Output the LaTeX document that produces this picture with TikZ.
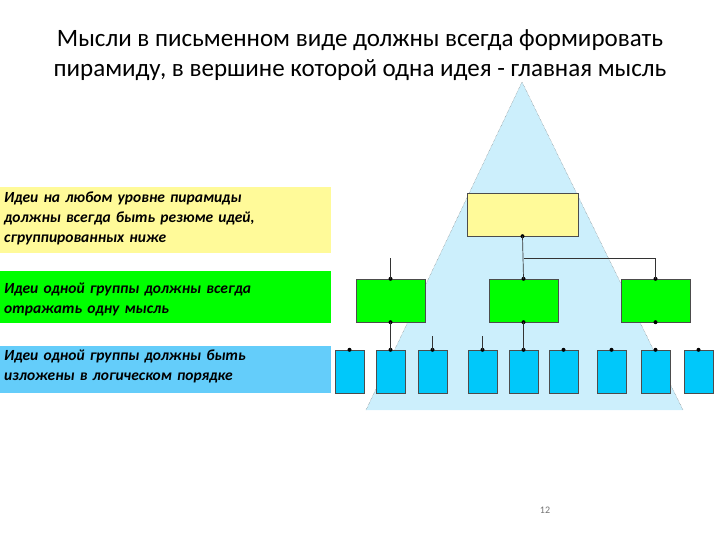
\documentclass[tikz,border=0pt]{standalone}
\usepackage{fontspec}
\setmainfont{Carlito}
\definecolor{bl}{RGB}{0,200,250}
\definecolor{bp}{RGB}{100,205,250}
\begin{document}
\begin{tikzpicture}[x=1pt,y=-1pt,
  ptext/.style={anchor=north west,font=\itshape\bfseries\fontsize{15.5}{20}\selectfont,align=left,text width=325pt,inner sep=0pt},
  ybox/.style={draw=black!70,fill=yellow!40,minimum width=111pt,minimum height=43pt,inner sep=0pt},
  gbox/.style={draw=black!70,fill=green,minimum width=69pt,minimum height=43pt,inner sep=0pt},
  bbox/.style={draw=black!70,fill=bl,minimum width=29pt,minimum height=43pt,inner sep=0pt},
  dot/.style={circle,fill=black,inner sep=0pt,minimum size=4pt},
  conn/.style={draw=black!80,line width=0.7pt}]
\useasboundingbox (0,0) rectangle (720,540);
\node[align=center,font=\fontsize{25}{30}\selectfont] (title) at (360,55) {Мысли в письменном виде должны всегда формировать\\пирамиду, в вершине которой одна идея - главная мысль};
\fill[cyan!20] (522,82) -- (683,410) -- (366,410) -- cycle;
\draw[black!60,densely dotted] (366,410) -- (522,82) -- (683,410);
\fill[yellow!40] (0,187) rectangle (331,253);
\fill[green] (0,271) rectangle (331,323);
\fill[bp] (0,346) rectangle (331,393);
\node[ptext] (t1) at (4,192) {Идеи на любом уровне пирамиды\\должны всегда быть резюме идей,\\сгруппированных ниже};
\node[ptext] (t2) at (4,283) {Идеи одной группы должны всегда\\отражать одну мысль};
\node[ptext] (t3) at (4,350) {Идеи одной группы должны быть\\изложены в логическом порядке};
\node[ybox] (y) at (522.5,214.5) {};
\node[gbox] (g1) at (390.5,300.5) {};
\node[gbox] (g2) at (523.5,300.5) {};
\node[gbox] (g3) at (655.5,300.5) {};
\foreach \i/\x in {1/349.5,2/390.5,3/432.5,4/482.5,5/523.5,6/563.5,7/611.5,8/655.5,9/698.5}{
  \node[bbox] (b\i) at (\x,371.5) {};
  \node[dot] (bd\i) at (b\i.north) {};
}
\foreach \n in {g1,g2,g3}{\node[dot] at (\n.north) {}; \node[dot] at (\n.south) {};}
\node[dot] (yd) at (y.south) {};
\coordinate (j) at (523.5,258);
\coordinate (jr) at (655.5,258);
\coordinate (l1) at (390.5,258);
\coordinate (s3) at (432.5,336);
\coordinate (s4) at (482.5,336);
\draw[conn] (y.south) -- (g2.north);
\draw[conn,line width=0.4pt] (j) -- (jr) -- (g3.north);
\draw[conn] (l1) -- (g1.north);
\draw[conn] (g1.south) -- (b2.north);
\draw[conn] (g2.south) -- (b5.north);
\draw[conn,line width=0.4pt] (s3) -- (b3.north);
\draw[conn,line width=0.4pt] (s4) -- (b4.north);
\node[text=black!55,font=\fontsize{10}{11}\selectfont] (pg) at (545,510) {12};
\end{tikzpicture}
\end{document}
